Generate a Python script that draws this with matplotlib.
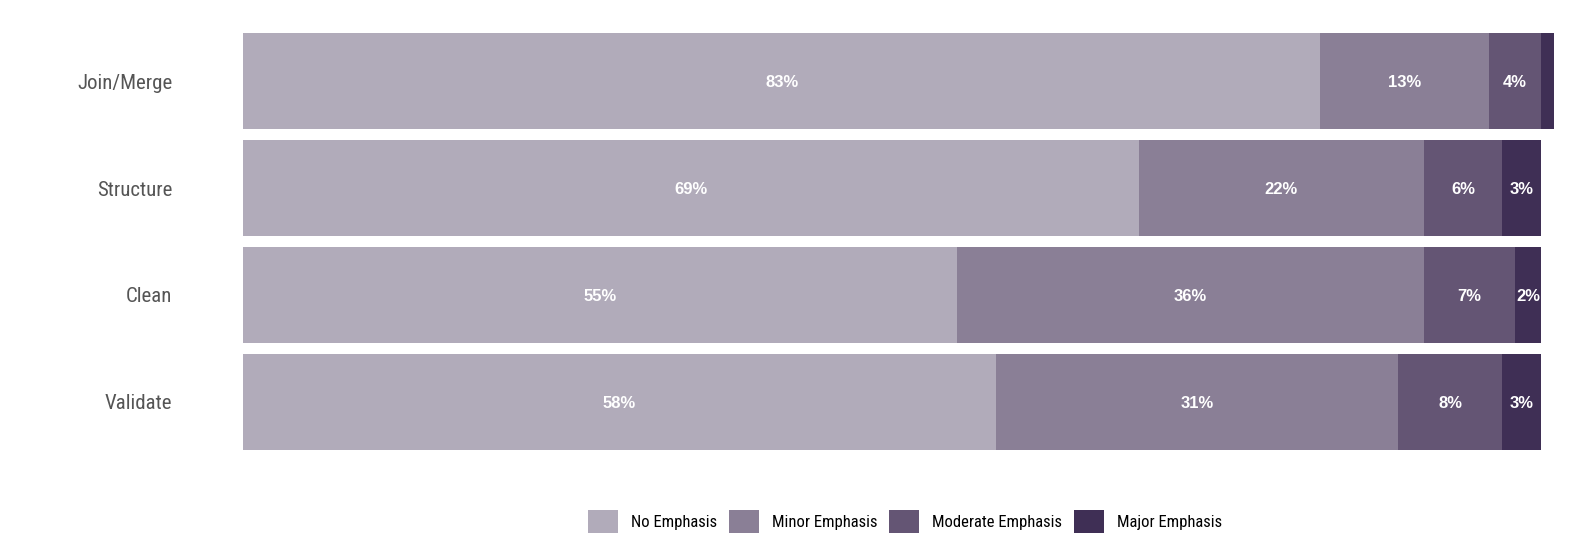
import matplotlib
matplotlib.use("Agg")
import matplotlib.pyplot as plt
from matplotlib.patches import Patch
import numpy as np

categories = ["Join/Merge", "Structure", "Clean", "Validate"]
series_names = ["No Emphasis", "Minor Emphasis", "Moderate Emphasis", "Major Emphasis"]
no_emphasis = [83, 69, 55, 58]
minor_emphasis = [13, 22, 36, 31]
moderate_emphasis = [4, 6, 7, 8]
major_emphasis = [1, 3, 2, 3]
colors = ["#b1abba", "#8a7f96", "#645574", "#3f2f55"]

series = [no_emphasis, minor_emphasis, moderate_emphasis, major_emphasis]
narrow = ["Roboto Condensed", "Liberation Sans", "DejaVu Sans"]

W, H = 1587, 533
fig = plt.figure(figsize=(W / 100, H / 100), dpi=100)
ax = fig.add_axes([243 / W, 1 - 450 / H, (1541 - 243) / W, (450 - 33) / H])

y = np.arange(len(categories))
left = np.zeros(len(categories))
for vals, col in zip(series, colors):
    vals = np.array(vals, dtype=float)
    bars = ax.barh(y, vals, left=left, height=0.9, color=col, edgecolor="none")
    for b in bars:
        b.set_clip_on(False)
    for yi, (l, v) in enumerate(zip(left, vals)):
        if v >= 2:
            ax.annotate(f"{int(v)}%", (l + v / 2, yi), xytext=(0, -1.2),
                        textcoords="offset points", ha="center", va="center",
                        color="white", fontsize=12, fontweight="bold",
                        family=["Liberation Sans", "DejaVu Sans"])
    left = left + vals

ax.set_xlim(0, 100)
ax.set_ylim(len(categories) - 0.55, -0.45)
ax.set_yticks(y)
ax.set_yticklabels(categories, fontsize=15, color="#555555", family=narrow)
ax.tick_params(axis="y", length=0, pad=51)
ax.set_xticks([])
for s in ax.spines.values():
    s.set_visible(False)

handles = [Patch(facecolor=c, edgecolor="none") for c in colors]
fig.legend(handles, series_names, loc="center", bbox_to_anchor=(905 / W, 1 - 522 / H),
           ncol=4, frameon=False, handlelength=1.8, handleheight=1.8,
           columnspacing=0.72, handletextpad=0.78, borderpad=0,
           prop={"family": narrow, "size": 12})

fig.savefig("out.png", dpi=100)
